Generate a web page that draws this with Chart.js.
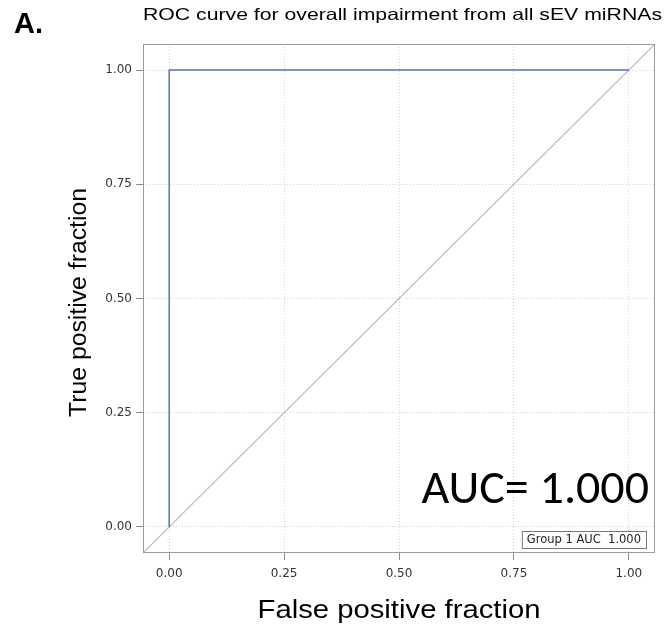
<!DOCTYPE html>
<html>
<head>
<meta charset="utf-8">
<script src="https://cdn.jsdelivr.net/npm/chart.js@4"></script>
<style>
  html, body { margin: 0; padding: 0; background: #fff; }
  #wrap { width: 672px; height: 627px; position: relative; }
</style>
</head>
<body>
<div id="wrap"><canvas id="roc" width="672" height="627"></canvas></div>
<script>
// ROC curve points (false positive fraction, true positive fraction)
const rocFpr = [0, 0, 1];
const rocTpr = [0, 1, 1];
// reference diagonal runs corner to corner of the frame
const diagX = [-0.057, 1.057];
const diagY = [-0.057, 1.057];
const tickValues = [0, 0.25, 0.5, 0.75, 1];
const aucValue = '1.000';

// draws text stretched to a given width
function stretchText(ctx, text, x, y, width) {
    const w = ctx.measureText(text).width;
    ctx.save();
    ctx.translate(x, y);
    ctx.scale(width / w, 1);
    ctx.fillText(text, 0, 0);
    ctx.restore();
}

// frame and annotation text
const framePlugin = {
    id: 'frame',
    afterDraw(chart) {
        const { ctx, chartArea: a } = chart;
        ctx.save();
        ctx.strokeStyle = '#9a9a9a';
        ctx.lineWidth = 1;
        ctx.strokeRect(a.left + 0.5, a.top + 0.5, a.right - a.left - 1, a.bottom - a.top - 1);

        ctx.fillStyle = '#000';
        ctx.textBaseline = 'alphabetic';

        // panel letter
        ctx.font = 'bold 29px "Liberation Sans", Arial, sans-serif';
        ctx.textAlign = 'left';
        ctx.fillText('A.', 14, 33);

        // title
        ctx.font = '16.5px "Liberation Sans", Arial, sans-serif';
        stretchText(ctx, 'ROC curve for overall impairment from all sEV miRNAs', 143, 20, 519);

        // axis titles
        ctx.textAlign = 'center';
        ctx.font = '25px "Liberation Sans", Arial, sans-serif';
        stretchText(ctx, 'False positive fraction', 399, 618, 283);
        ctx.font = '23px "Liberation Sans", Arial, sans-serif';
        ctx.save();
        ctx.translate(86, 302.5);
        ctx.rotate(-Math.PI / 2);
        stretchText(ctx, 'True positive fraction', 0, 0, 229);
        ctx.restore();

        // big AUC label
        ctx.font = '48px Carlito, "Open Sans", "Liberation Sans", sans-serif';
        ctx.textAlign = 'right';
        ctx.fillText('AUC= ' + aucValue, 649, 503);

        // legend box
        ctx.font = '11.5px "DejaVu Sans", sans-serif';
        ctx.textBaseline = 'middle';
        const lbl = 'Group 1 AUC  ' + aucValue;
        const lw = ctx.measureText(lbl).width;
        const bx = 646 - lw - 10;
        ctx.fillStyle = '#fff';
        ctx.fillRect(bx, 531, lw + 10, 17);
        ctx.strokeStyle = '#777';
        ctx.strokeRect(bx + 0.5, 531.5, lw + 10, 17);
        ctx.fillStyle = '#222';
        ctx.textAlign = 'left';
        ctx.fillText(lbl, bx + 5, 540);
        ctx.restore();
    }
};

const axisCommon = {
    type: 'linear',
    min: -0.057,
    max: 1.057,
    afterBuildTicks: axis => { axis.ticks = tickValues.map(v => ({ value: v })); },
    grid: {
        color: '#d4d4d4',
        lineWidth: 1,
        tickColor: '#8a8a8a',
        tickLength: 7,
        drawTicks: true
    },
    border: { display: false, dash: [1, 2] },
    ticks: {
        color: '#333',
        font: { family: '"DejaVu Sans", sans-serif', size: 12 },
        callback: v => v.toFixed(2)
    }
};

new Chart(document.getElementById('roc'), {
    type: 'scatter',
    data: {
        datasets: [
            {
                label: 'ROC',
                data: rocFpr.map((x, i) => ({ x, y: rocTpr[i] })),
                showLine: true,
                borderColor: '#5b73b4',
                borderWidth: 1.5,
                pointRadius: 0,
                fill: false
            },
            {
                label: 'Chance',
                data: diagX.map((x, i) => ({ x, y: diagY[i] })),
                showLine: true,
                borderColor: '#b8b8b8',
                borderWidth: 1.2,
                pointRadius: 0,
                fill: false
            }
        ]
    },
    options: {
        responsive: false,
        animation: false,
        layout: { padding: { top: 44, right: 17, left: 0, bottom: 0 } },
        plugins: { legend: { display: false }, tooltip: { enabled: false } },
        scales: {
            x: Object.assign({}, axisCommon, {
                afterFit: s => { s.height = 74; },
                ticks: Object.assign({}, axisCommon.ticks, { padding: 7, maxRotation: 0 })
            }),
            y: Object.assign({}, axisCommon, {
                afterFit: s => { s.width = 143; },
                ticks: Object.assign({}, axisCommon.ticks, { padding: 4 })
            })
        }
    },
    plugins: [framePlugin]
});
</script>
</body>
</html>
